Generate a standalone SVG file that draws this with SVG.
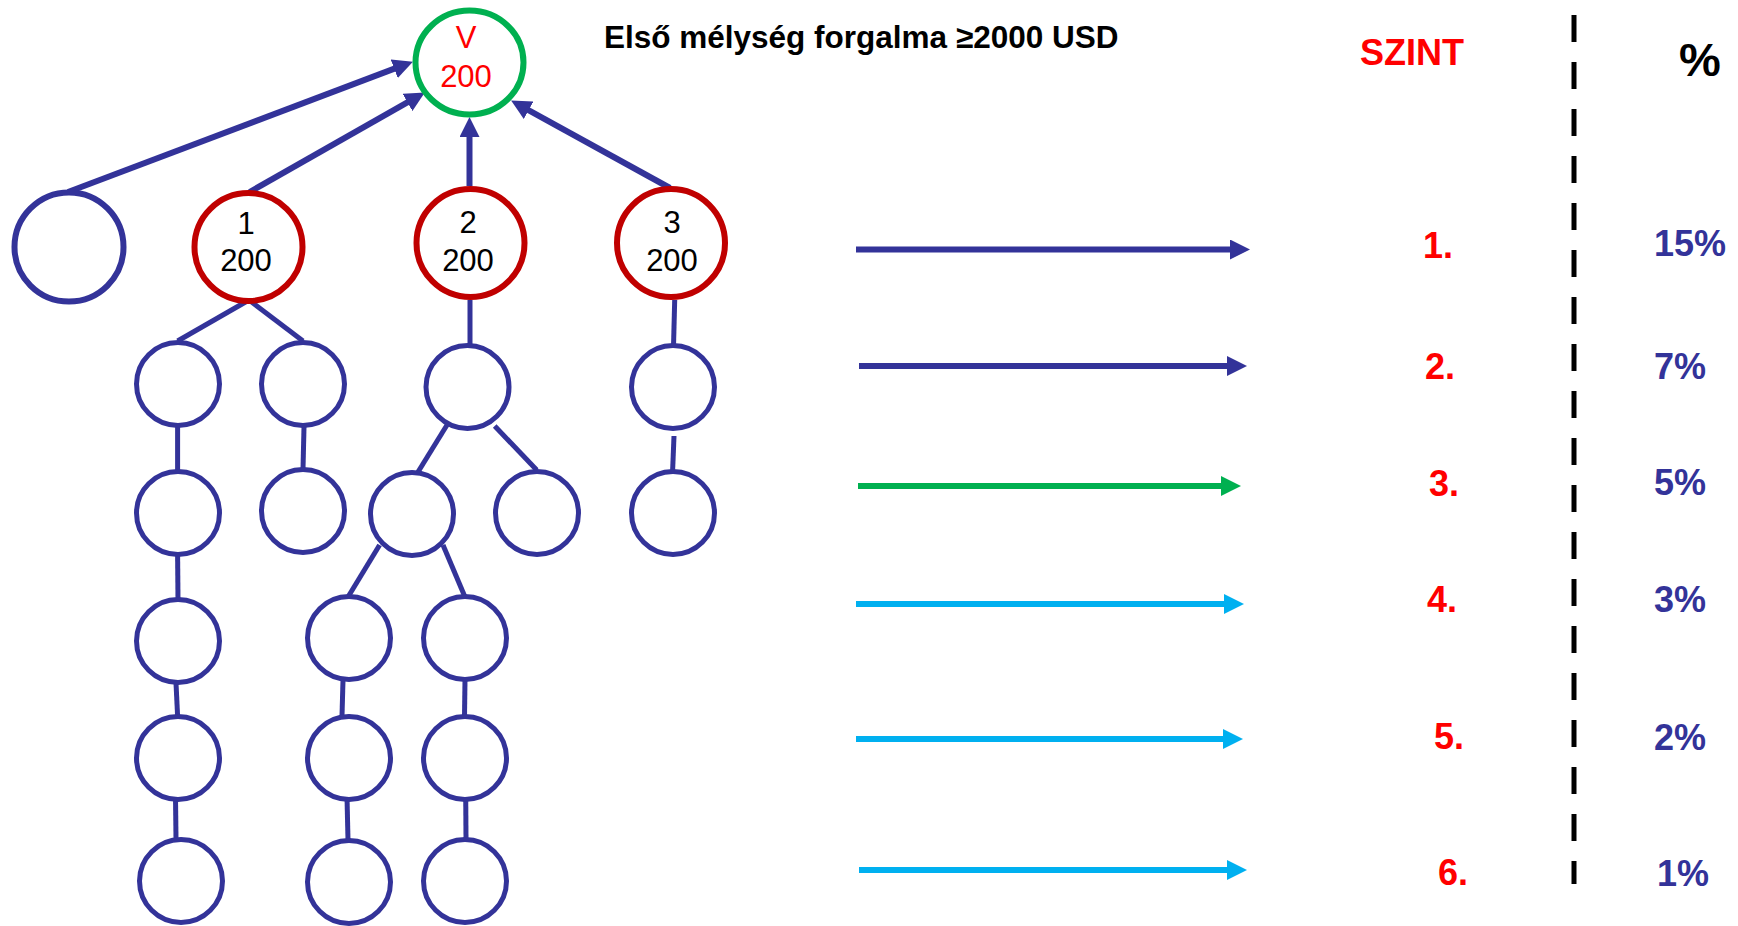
<svg xmlns="http://www.w3.org/2000/svg" width="1738" height="926" viewBox="0 0 1738 926">
<style>
  .big { fill: #ffffff; stroke-width: 6; }
  .sm { fill: #ffffff; stroke: #333399; stroke-width: 5; }
  .num { font-family: "Liberation Sans", Arial, sans-serif; font-size: 31px; text-anchor: middle; }
  .tree line { stroke: #333399; stroke-width: 5; }
  .up line { stroke: #333399; stroke-width: 6; }
  .lvl { font-family: "Liberation Sans", Arial, sans-serif; font-weight: bold; font-size: 36px; fill: #ff0000; }
  .pct { font-family: "Liberation Sans", Arial, sans-serif; font-weight: bold; font-size: 36px; fill: #333399; }
</style>
<defs>
  <marker id="ahNavy" markerUnits="userSpaceOnUse" markerWidth="20" markerHeight="20" refX="8" refY="10" orient="auto">
    <path d="M0,0 L20,10 L0,20 z" fill="#333399"/>
  </marker>
  <marker id="ahGreen" markerUnits="userSpaceOnUse" markerWidth="20" markerHeight="20" refX="8" refY="10" orient="auto">
    <path d="M0,0 L20,10 L0,20 z" fill="#00B050"/>
  </marker>
  <marker id="ahBlue" markerUnits="userSpaceOnUse" markerWidth="20" markerHeight="20" refX="8" refY="10" orient="auto">
    <path d="M0,0 L20,10 L0,20 z" fill="#00B0F0"/>
  </marker>
</defs>
<rect width="1738" height="926" fill="#ffffff"/>

<g id="connectors">
  <g class="up">
    <line x1="68" y1="192" x2="401.7" y2="65.9" marker-end="url(#ahNavy)"/>
    <line x1="249.6" y1="192" x2="414.4" y2="98.4" marker-end="url(#ahNavy)"/>
    <line x1="469.5" y1="186" x2="469.5" y2="129" marker-end="url(#ahNavy)"/>
    <line x1="670" y1="188" x2="521.6" y2="106.3" marker-end="url(#ahNavy)"/>
  </g>
  <g class="tree">
    <line x1="249" y1="300" x2="177.6" y2="341"/>
    <line x1="249" y1="300" x2="303" y2="341"/>
    <line x1="470" y1="300" x2="470" y2="344"/>
    <line x1="674.7" y1="300" x2="673.5" y2="346.7"/>
    <line x1="177.6" y1="427" x2="177.6" y2="471"/>
    <line x1="304" y1="427" x2="303" y2="469"/>
    <line x1="449" y1="421.7" x2="418" y2="472"/>
    <line x1="494.7" y1="426" x2="536.7" y2="470"/>
    <line x1="674" y1="436" x2="672.6" y2="471"/>
    <line x1="177.6" y1="555" x2="178" y2="599"/>
    <line x1="379.6" y1="545" x2="348" y2="597"/>
    <line x1="443" y1="545" x2="465" y2="597"/>
    <line x1="176" y1="683" x2="177.6" y2="716"/>
    <line x1="343" y1="680" x2="342" y2="716"/>
    <line x1="465" y1="680" x2="464.5" y2="716"/>
    <line x1="175.5" y1="797" x2="176" y2="839"/>
    <line x1="347" y1="797" x2="348" y2="840"/>
    <line x1="465.7" y1="794" x2="466" y2="839"/>
  </g>
  <g id="level-arrows">
    <line x1="856" y1="249.5" x2="1238" y2="249.5" stroke="#333399" stroke-width="6" marker-end="url(#ahNavy)"/>
    <line x1="859" y1="366" x2="1235" y2="366" stroke="#333399" stroke-width="6" marker-end="url(#ahNavy)"/>
    <line x1="858" y1="486" x2="1229" y2="486" stroke="#00B050" stroke-width="6" marker-end="url(#ahGreen)"/>
    <line x1="856" y1="604" x2="1232" y2="604" stroke="#00B0F0" stroke-width="6" marker-end="url(#ahBlue)"/>
    <line x1="856" y1="739" x2="1231" y2="739" stroke="#00B0F0" stroke-width="6" marker-end="url(#ahBlue)"/>
    <line x1="859" y1="870" x2="1235" y2="870" stroke="#00B0F0" stroke-width="6" marker-end="url(#ahBlue)"/>
  </g>
  <line id="divider" x1="1574" y1="15" x2="1574" y2="884" stroke="#000000" stroke-width="5" stroke-dasharray="27 20"/>
</g>

<g id="node-V">
  <ellipse cx="469.5" cy="62.5" rx="54" ry="52" class="big" stroke="#00B050"/>
  <text class="num" x="466" y="48" fill="#ff0000">V</text>
  <text class="num" x="466" y="87" fill="#ff0000">200</text>
</g>
<g id="node-empty">
  <circle cx="69" cy="247" r="54.5" class="big" stroke="#333399"/>
</g>
<g id="node-1">
  <circle cx="248.5" cy="247" r="54" class="big" stroke="#C00000"/>
  <text class="num" x="246" y="234" fill="#000">1</text>
  <text class="num" x="246" y="271" fill="#000">200</text>
</g>
<g id="node-2">
  <circle cx="470.5" cy="243" r="54" class="big" stroke="#C00000"/>
  <text class="num" x="468" y="233" fill="#000">2</text>
  <text class="num" x="468" y="271" fill="#000">200</text>
</g>
<g id="node-3">
  <circle cx="671" cy="243" r="54" class="big" stroke="#C00000"/>
  <text class="num" x="672" y="233" fill="#000">3</text>
  <text class="num" x="672" y="271" fill="#000">200</text>
</g>

<g id="node-A"><circle cx="178" cy="384" r="41.5" class="sm"/></g>
<g id="node-B"><circle cx="303" cy="384" r="41.5" class="sm"/></g>
<g id="node-C"><circle cx="467.5" cy="387" r="41.5" class="sm"/></g>
<g id="node-D"><circle cx="673" cy="387" r="41.5" class="sm"/></g>
<g id="node-A2"><circle cx="178" cy="513" r="41.5" class="sm"/></g>
<g id="node-B2"><circle cx="303" cy="511" r="41.5" class="sm"/></g>
<g id="node-E"><circle cx="412" cy="514" r="41.5" class="sm"/></g>
<g id="node-F"><circle cx="537" cy="513" r="41.5" class="sm"/></g>
<g id="node-D2"><circle cx="673" cy="513" r="41.5" class="sm"/></g>
<g id="node-A3"><circle cx="178" cy="641" r="41.5" class="sm"/></g>
<g id="node-G"><circle cx="349" cy="638" r="41.5" class="sm"/></g>
<g id="node-H"><circle cx="465" cy="638" r="41.5" class="sm"/></g>
<g id="node-A4"><circle cx="178" cy="758" r="41.5" class="sm"/></g>
<g id="node-G2"><circle cx="349" cy="758" r="41.5" class="sm"/></g>
<g id="node-H2"><circle cx="465" cy="758" r="41.5" class="sm"/></g>
<g id="node-A5"><circle cx="181" cy="881" r="41.5" class="sm"/></g>
<g id="node-G3"><circle cx="349" cy="882" r="41.5" class="sm"/></g>
<g id="node-H3"><circle cx="465" cy="881" r="41.5" class="sm"/></g>

<g id="title">
  <text x="604" y="48" font-family="Liberation Sans, Arial, sans-serif" font-weight="bold" font-size="31.5" fill="#000">Első mélység forgalma ≥2000 USD</text>
</g>
<g id="header">
  <text x="1360" y="65" font-family="Liberation Sans, Arial, sans-serif" font-weight="bold" font-size="36" fill="#ff0000">SZINT</text>
  <text x="1679" y="76" font-family="Liberation Sans, Arial, sans-serif" font-weight="bold" font-size="47" fill="#000">%</text>
</g>
<g id="levels">
  <text class="lvl" x="1423" y="258">1.</text>
  <text class="lvl" x="1425" y="379">2.</text>
  <text class="lvl" x="1429" y="496">3.</text>
  <text class="lvl" x="1427" y="612">4.</text>
  <text class="lvl" x="1434" y="749">5.</text>
  <text class="lvl" x="1438" y="885">6.</text>
</g>
<g id="percents">
  <text class="pct" x="1654" y="256">15%</text>
  <text class="pct" x="1654" y="379">7%</text>
  <text class="pct" x="1654" y="495">5%</text>
  <text class="pct" x="1654" y="612">3%</text>
  <text class="pct" x="1654" y="750">2%</text>
  <text class="pct" x="1657" y="886">1%</text>
</g>
</svg>
